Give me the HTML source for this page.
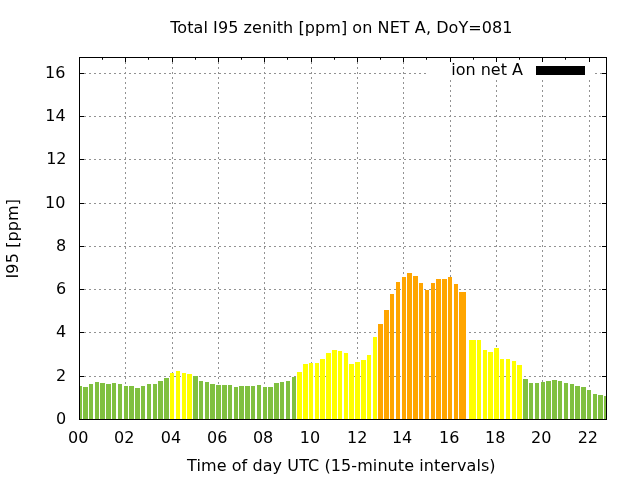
<!DOCTYPE html>
<html lang="en">
<head>
<meta charset="utf-8">
<title>Total I95 zenith [ppm] on NET A, DoY=081</title>
<style>
html,body{margin:0;padding:0;background:#fff;}
body{width:640px;height:480px;overflow:hidden;}
svg{display:block;}
text{font-family:"DejaVu Sans","Liberation Sans",sans-serif;font-size:16px;fill:#000;}
</style>
</head>
<body>
<svg width="640" height="480" viewBox="0 0 640 480">
<rect width="640" height="480" fill="#fff"/>

<g stroke="#929292" stroke-width="1" stroke-dasharray="2 3" fill="none">
<line x1="79" y1="376.5" x2="606" y2="376.5"/>
<line x1="79" y1="332.5" x2="606" y2="332.5"/>
<line x1="79" y1="289.5" x2="606" y2="289.5"/>
<line x1="79" y1="246.5" x2="606" y2="246.5"/>
<line x1="79" y1="203.5" x2="606" y2="203.5"/>
<line x1="79" y1="159.5" x2="606" y2="159.5"/>
<line x1="79" y1="116.5" x2="606" y2="116.5"/>
<line x1="79" y1="73.5" x2="427" y2="73.5"/>
<line x1="595" y1="73.5" x2="606" y2="73.5"/>
<line x1="125.5" y1="57" x2="125.5" y2="419"/>
<line x1="172.5" y1="57" x2="172.5" y2="419"/>
<line x1="218.5" y1="57" x2="218.5" y2="419"/>
<line x1="264.5" y1="57" x2="264.5" y2="419"/>
<line x1="311.5" y1="57" x2="311.5" y2="419"/>
<line x1="357.5" y1="57" x2="357.5" y2="419"/>
<line x1="403.5" y1="57" x2="403.5" y2="419"/>
<line x1="450.5" y1="80" x2="450.5" y2="419"/>
<line x1="496.5" y1="80" x2="496.5" y2="419"/>
<line x1="542.5" y1="80" x2="542.5" y2="419"/>
<line x1="589.5" y1="80" x2="589.5" y2="419"/>
</g>
<g stroke="#000" stroke-width="1" fill="none">
<path d="M79.5 376.5H84M606.5 376.5H602"/>
<path d="M79.5 332.5H84M606.5 332.5H602"/>
<path d="M79.5 289.5H84M606.5 289.5H602"/>
<path d="M79.5 246.5H84M606.5 246.5H602"/>
<path d="M79.5 203.5H84M606.5 203.5H602"/>
<path d="M79.5 159.5H84M606.5 159.5H602"/>
<path d="M79.5 116.5H84M606.5 116.5H602"/>
<path d="M79.5 73.5H84M606.5 73.5H602"/>
<path d="M102.5 419.5V417.25M102.5 57.5V59.75"/>
<path d="M125.5 419.5V415.0M125.5 57.5V62.0"/>
<path d="M148.5 419.5V417.25M148.5 57.5V59.75"/>
<path d="M172.5 419.5V415.0M172.5 57.5V62.0"/>
<path d="M195.5 419.5V417.25M195.5 57.5V59.75"/>
<path d="M218.5 419.5V415.0M218.5 57.5V62.0"/>
<path d="M241.5 419.5V417.25M241.5 57.5V59.75"/>
<path d="M264.5 419.5V415.0M264.5 57.5V62.0"/>
<path d="M287.5 419.5V417.25M287.5 57.5V59.75"/>
<path d="M311.5 419.5V415.0M311.5 57.5V62.0"/>
<path d="M334.5 419.5V417.25M334.5 57.5V59.75"/>
<path d="M357.5 419.5V415.0M357.5 57.5V62.0"/>
<path d="M380.5 419.5V417.25M380.5 57.5V59.75"/>
<path d="M403.5 419.5V415.0M403.5 57.5V62.0"/>
<path d="M426.5 419.5V417.25M426.5 57.5V59.75"/>
<path d="M450.5 419.5V415.0M450.5 57.5V62.0"/>
<path d="M473.5 419.5V417.25M473.5 57.5V59.75"/>
<path d="M496.5 419.5V415.0M496.5 57.5V62.0"/>
<path d="M519.5 419.5V417.25M519.5 57.5V59.75"/>
<path d="M542.5 419.5V415.0M542.5 57.5V62.0"/>
<path d="M565.5 419.5V417.25M565.5 57.5V59.75"/>
<path d="M589.5 419.5V415.0M589.5 57.5V62.0"/>
</g>
<g shape-rendering="crispEdges">
<rect x="80" y="386" width="2" height="33" fill="#80c040"/>
<rect x="83" y="387" width="5" height="32" fill="#80c040"/>
<rect x="89" y="384" width="4" height="35" fill="#80c040"/>
<rect x="95" y="382" width="4" height="37" fill="#80c040"/>
<rect x="100" y="383" width="5" height="36" fill="#80c040"/>
<rect x="106" y="384" width="5" height="35" fill="#80c040"/>
<rect x="112" y="383" width="4" height="36" fill="#80c040"/>
<rect x="118" y="384" width="4" height="35" fill="#80c040"/>
<rect x="124" y="386" width="4" height="33" fill="#80c040"/>
<rect x="129" y="386" width="5" height="33" fill="#80c040"/>
<rect x="135" y="388" width="5" height="31" fill="#80c040"/>
<rect x="141" y="386" width="4" height="33" fill="#80c040"/>
<rect x="147" y="384" width="4" height="35" fill="#80c040"/>
<rect x="153" y="384" width="4" height="35" fill="#80c040"/>
<rect x="158" y="381" width="5" height="38" fill="#80c040"/>
<rect x="164" y="378" width="5" height="41" fill="#80c040"/>
<rect x="170" y="373" width="4" height="46" fill="#ffff00"/>
<rect x="176" y="371" width="4" height="48" fill="#ffff00"/>
<rect x="182" y="373" width="4" height="46" fill="#ffff00"/>
<rect x="187" y="374" width="5" height="45" fill="#ffff00"/>
<rect x="193" y="376" width="5" height="43" fill="#80c040"/>
<rect x="199" y="381" width="4" height="38" fill="#80c040"/>
<rect x="205" y="382" width="4" height="37" fill="#80c040"/>
<rect x="210" y="384" width="5" height="35" fill="#80c040"/>
<rect x="216" y="385" width="5" height="34" fill="#80c040"/>
<rect x="222" y="385" width="5" height="34" fill="#80c040"/>
<rect x="228" y="385" width="4" height="34" fill="#80c040"/>
<rect x="234" y="387" width="4" height="32" fill="#80c040"/>
<rect x="239" y="386" width="5" height="33" fill="#80c040"/>
<rect x="245" y="386" width="5" height="33" fill="#80c040"/>
<rect x="251" y="386" width="4" height="33" fill="#80c040"/>
<rect x="257" y="385" width="4" height="34" fill="#80c040"/>
<rect x="263" y="387" width="4" height="32" fill="#80c040"/>
<rect x="268" y="387" width="5" height="32" fill="#80c040"/>
<rect x="274" y="383" width="5" height="36" fill="#80c040"/>
<rect x="280" y="382" width="4" height="37" fill="#80c040"/>
<rect x="286" y="381" width="4" height="38" fill="#80c040"/>
<rect x="292" y="377" width="4" height="42" fill="#80c040"/>
<rect x="297" y="372" width="5" height="47" fill="#ffff00"/>
<rect x="303" y="364" width="5" height="55" fill="#ffff00"/>
<rect x="309" y="363" width="4" height="56" fill="#ffff00"/>
<rect x="315" y="363" width="4" height="56" fill="#ffff00"/>
<rect x="320" y="359" width="5" height="60" fill="#ffff00"/>
<rect x="326" y="353" width="5" height="66" fill="#ffff00"/>
<rect x="332" y="350" width="5" height="69" fill="#ffff00"/>
<rect x="338" y="351" width="4" height="68" fill="#ffff00"/>
<rect x="344" y="353" width="4" height="66" fill="#ffff00"/>
<rect x="349" y="364" width="5" height="55" fill="#ffff00"/>
<rect x="355" y="362" width="5" height="57" fill="#ffff00"/>
<rect x="361" y="360" width="5" height="59" fill="#ffff00"/>
<rect x="367" y="355" width="4" height="64" fill="#ffff00"/>
<rect x="373" y="337" width="4" height="82" fill="#ffff00"/>
<rect x="378" y="324" width="5" height="95" fill="#ffa500"/>
<rect x="384" y="310" width="5" height="109" fill="#ffa500"/>
<rect x="390" y="294" width="4" height="125" fill="#ffa500"/>
<rect x="396" y="282" width="4" height="137" fill="#ffa500"/>
<rect x="402" y="277" width="4" height="142" fill="#ffa500"/>
<rect x="407" y="273" width="5" height="146" fill="#ffa500"/>
<rect x="413" y="276" width="5" height="143" fill="#ffa500"/>
<rect x="419" y="283" width="4" height="136" fill="#ffa500"/>
<rect x="425" y="290" width="4" height="129" fill="#ffa500"/>
<rect x="431" y="283" width="4" height="136" fill="#ffa500"/>
<rect x="436" y="279" width="5" height="140" fill="#ffa500"/>
<rect x="442" y="279" width="5" height="140" fill="#ffa500"/>
<rect x="448" y="277" width="4" height="142" fill="#ffa500"/>
<rect x="454" y="284" width="4" height="135" fill="#ffa500"/>
<rect x="459" y="292" width="7" height="127" fill="#ffa500"/>
<rect x="469" y="340" width="7" height="79" fill="#ffff00"/>
<rect x="477" y="340" width="4" height="79" fill="#ffff00"/>
<rect x="483" y="350" width="4" height="69" fill="#ffff00"/>
<rect x="488" y="352" width="5" height="67" fill="#ffff00"/>
<rect x="494" y="348" width="5" height="71" fill="#ffff00"/>
<rect x="500" y="359" width="4" height="60" fill="#ffff00"/>
<rect x="506" y="359" width="4" height="60" fill="#ffff00"/>
<rect x="512" y="361" width="4" height="58" fill="#ffff00"/>
<rect x="517" y="365" width="5" height="54" fill="#ffff00"/>
<rect x="523" y="379" width="5" height="40" fill="#80c040"/>
<rect x="529" y="383" width="4" height="36" fill="#80c040"/>
<rect x="535" y="383" width="4" height="36" fill="#80c040"/>
<rect x="541" y="382" width="4" height="37" fill="#80c040"/>
<rect x="546" y="381" width="5" height="38" fill="#80c040"/>
<rect x="552" y="380" width="5" height="39" fill="#80c040"/>
<rect x="558" y="381" width="4" height="38" fill="#80c040"/>
<rect x="564" y="383" width="4" height="36" fill="#80c040"/>
<rect x="570" y="384" width="4" height="35" fill="#80c040"/>
<rect x="575" y="386" width="5" height="33" fill="#80c040"/>
<rect x="581" y="387" width="5" height="32" fill="#80c040"/>
<rect x="587" y="390" width="4" height="29" fill="#80c040"/>
<rect x="593" y="394" width="4" height="25" fill="#80c040"/>
<rect x="598" y="395" width="5" height="24" fill="#80c040"/>
<rect x="604" y="396" width="2" height="23" fill="#80c040"/>
</g>
<text x="523" y="74.75" text-anchor="end">ion net A</text>
<rect x="536" y="66" width="49" height="9" fill="#000" shape-rendering="crispEdges"/>
<rect x="79.5" y="57.5" width="527" height="362" fill="none" stroke="#000" stroke-width="1"/>
<text x="66.25" y="424" text-anchor="end">0</text>
<text x="66.25" y="381" text-anchor="end">2</text>
<text x="66.25" y="337" text-anchor="end">4</text>
<text x="66.25" y="294" text-anchor="end">6</text>
<text x="66.25" y="251" text-anchor="end">8</text>
<text x="65.4" y="208" text-anchor="end">10</text>
<text x="66.5" y="164" text-anchor="end">12</text>
<text x="65.6" y="121" text-anchor="end">14</text>
<text x="65.4" y="78" text-anchor="end">16</text>
<text x="78.25" y="442.6" text-anchor="middle">00</text>
<text x="124.28" y="442.6" text-anchor="middle">02</text>
<text x="170.91" y="442.6" text-anchor="middle">04</text>
<text x="217.24" y="442.6" text-anchor="middle">06</text>
<text x="263.07" y="442.6" text-anchor="middle">08</text>
<text x="309.90" y="442.6" text-anchor="middle">10</text>
<text x="357.23" y="442.6" text-anchor="middle">12</text>
<text x="402.06" y="442.6" text-anchor="middle">14</text>
<text x="449.19" y="442.6" text-anchor="middle">16</text>
<text x="495.22" y="442.6" text-anchor="middle">18</text>
<text x="541.15" y="442.6" text-anchor="middle">20</text>
<text x="587.88" y="442.6" text-anchor="middle">22</text>
<text x="341.4" y="32.6" text-anchor="middle" letter-spacing="0.077">Total I95 zenith [ppm] on NET A, DoY=081</text>
<text x="341.4" y="471" text-anchor="middle" letter-spacing="0.083">Time of day UTC (15-minute intervals)</text>
<text transform="translate(17.8,238.7) rotate(-90)" text-anchor="middle" letter-spacing="0.11">I95 [ppm]</text>
</svg>
</body>
</html>
